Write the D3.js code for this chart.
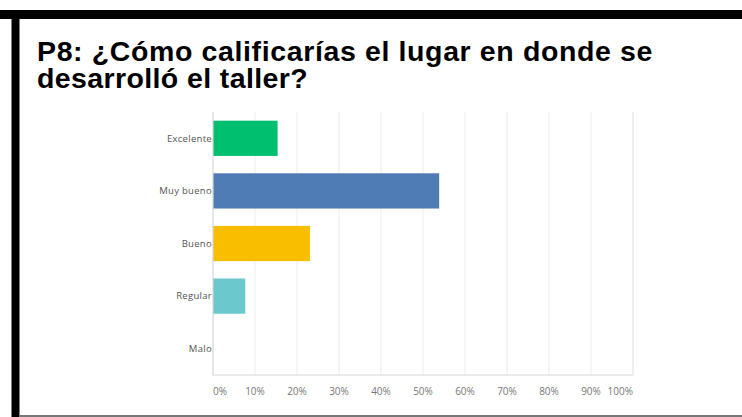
<!DOCTYPE html>
<html>
<head>
<meta charset="utf-8">
<script src="https://cdn.jsdelivr.net/npm/d3@7"></script>
<style>
  html, body { margin: 0; padding: 0; background: #fff; }
  svg { display: block; }
</style>
</head>
<body>
<svg id="chart" width="742" height="417"></svg>
<script>
// Survey answers (share of respondents, %)
const categories = ["Excelente", "Muy bueno", "Bueno", "Regular", "Malo"];
const percentages = [15.38, 53.85, 23.08, 7.69, 0];
const barColors = ["#00bf6f", "#507cb6", "#f9be00", "#6bc8cd", "#a0a0a0"];
const tickValues = [0, 10, 20, 30, 40, 50, 60, 70, 80, 90, 100];
const tickLabels = ["0%", "10%", "20%", "30%", "40%", "50%", "60%", "70%", "80%", "90%", "100%"];
const titleLines = ["P8: ¿Cómo calificarías el lugar en donde se", "desarrolló el taller?"];

const svg = d3.select("#chart");

// page frame
svg.append("rect").attr("x", 0).attr("y", 10).attr("width", 742).attr("height", 9).attr("fill", "#000");
svg.append("rect").attr("x", 11.5).attr("y", 10).attr("width", 8).attr("height", 407).attr("fill", "#000");
svg.append("rect").attr("x", 19.5).attr("y", 415).attr("width", 722.5).attr("height", 2).attr("fill", "#777");

// title, two lines fitted to their set widths
const titleWidths = [616, 271];
titleLines.forEach((t, i) => {
  const el = svg.append("text")
    .attr("x", 37)
    .attr("y", 61 + i * 27)
    .attr("font-family", "'Liberation Sans', Arial, sans-serif")
    .attr("font-weight", "bold")
    .attr("font-size", 28.5)
    .attr("fill", "#000")
    .text(t);
  const w = el.node().getComputedTextLength();
  el.attr("letter-spacing", ((titleWidths[i] - w) / t.length).toFixed(3));
});

// plot region
const x0 = 213, x1 = 633, y0 = 112, y1 = 375;
const x = d3.scaleLinear().domain([0, 100]).range([x0, x1]);
const y = d3.scaleBand().domain(categories).range([y0, y1]).paddingInner(0.33).paddingOuter(0.165);

const g = svg.append("g");

// vertical gridlines
g.selectAll("line.grid").data(tickValues.slice(1)).join("line")
  .attr("class", "grid")
  .attr("x1", d => x(d)).attr("x2", d => x(d))
  .attr("y1", y0).attr("y2", y1)
  .attr("stroke", d => d === 100 ? "#e0e0e0" : "#ececec")
  .attr("stroke-width", 1);

// bars
g.selectAll("rect.bar").data(categories).join("rect")
  .attr("class", "bar")
  .attr("x", x0)
  .attr("y", d => y(d))
  .attr("width", (d, i) => x(percentages[i]) - x0)
  .attr("height", y.bandwidth())
  .attr("fill", (d, i) => barColors[i]);

// axis lines
g.append("line").attr("x1", x0).attr("x2", x0).attr("y1", y0).attr("y2", y1 + 0.5)
  .attr("stroke", "#d6d6d6").attr("stroke-width", 1.2);
g.append("line").attr("x1", x0).attr("x2", x1).attr("y1", y1).attr("y2", y1)
  .attr("stroke", "#d6d6d6").attr("stroke-width", 1.2);

// category labels
g.selectAll("text.cat").data(categories).join("text")
  .attr("class", "cat")
  .attr("x", x0 - 1)
  .attr("y", d => y(d) + y.bandwidth() / 2)
  .attr("dy", "0.35em")
  .attr("text-anchor", "end")
  .attr("font-family", "'Open Sans', sans-serif")
  .attr("font-size", 9.5)
  .attr("letter-spacing", 0.3)
  .attr("fill", "#555")
  .text(d => d);

// value axis labels
g.selectAll("text.tick").data(tickValues).join("text")
  .attr("class", "tick")
  .attr("x", d => x(d))
  .attr("y", 395)
  .attr("text-anchor", (d, i) => i === 0 ? "start" : (i === tickValues.length - 1 ? "end" : "middle"))
  .attr("font-family", "'Open Sans', sans-serif")
  .attr("font-size", 10)
  .attr("fill", "#777")
  .text((d, i) => tickLabels[i]);
</script>
</body>
</html>
